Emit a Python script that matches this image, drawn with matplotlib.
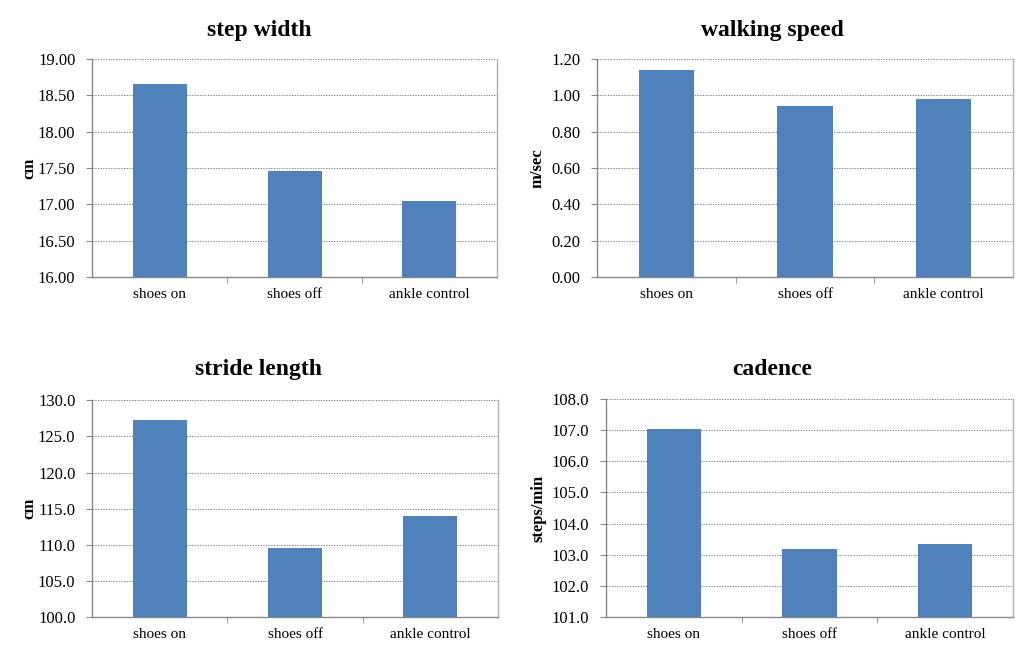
import matplotlib.pyplot as plt

plt.rcParams['font.family'] = ['Liberation Serif', 'DejaVu Serif']

categories = ['shoes on', 'shoes off', 'ankle control']

step_width = [18.66, 17.46, 17.05]
walking_speed = [1.14, 0.94, 0.98]
stride_length = [127.3, 109.5, 114.0]
cadence = [107.05, 103.18, 103.35]

titles = ['step width', 'walking speed', 'stride length', 'cadence']
ylabels = ['cm', 'm/sec', 'cm', 'steps/min']
ylims = [(16.0, 19.0), (0.0, 1.2), (100.0, 130.0), (101.0, 108.0)]
ysteps = [0.5, 0.2, 5.0, 1.0]
yfmts = ['{:.2f}', '{:.2f}', '{:.1f}', '{:.1f}']

bar_color = '#4F81BD'
axis_color = '#888888'

fig = plt.figure(figsize=(10.33, 6.69), dpi=100)
fig.patch.set_facecolor('white')

# axes boxes in figure fraction (left, bottom, width, height)
boxes = [
    (0.0891, 0.586, 0.392, 0.326),
    (0.578, 0.586, 0.4027, 0.326),
    (0.0891, 0.0777, 0.393, 0.324),
    (0.5866, 0.0777, 0.394, 0.326),
]
title_pos = [(0.251, 0.955), (0.748, 0.955), (0.250, 0.447), (0.748, 0.447)]
ylabel_x = [-0.135, -0.125, -0.135, -0.145]

data = [step_width, walking_speed, stride_length, cadence]

for i in range(4):
    ax = fig.add_axes(boxes[i])
    x = range(len(categories))
    lo, hi = ylims[i]
    ax.bar(x, [v - lo for v in data[i]], bottom=lo, width=0.4, color=bar_color, zorder=3)
    ax.set_xlim(-0.5, 2.5)
    ax.set_ylim(lo, hi)

    n = int(round((hi - lo) / ysteps[i]))
    ticks = [lo + k * ysteps[i] for k in range(n + 1)]
    ax.set_yticks(ticks)
    ax.set_yticklabels([yfmts[i].format(t) for t in ticks], fontsize=12)
    ax.yaxis.grid(True, linestyle=(0, (1.5, 1.2)), color='#8a8a8a', linewidth=0.7, zorder=0)

    ax.set_xticks(list(x))
    ax.set_xticklabels(categories, fontsize=11)
    ax.tick_params(axis='x', length=0, pad=8)
    ax.set_xticks([0.5, 1.5], minor=True)
    ax.tick_params(axis='x', which='minor', length=4, color=axis_color, direction='out')
    ax.tick_params(axis='y', length=4, color=axis_color, direction='out', pad=8)

    ax.spines['top'].set_visible(False)
    for s in ['left', 'bottom', 'right']:
        ax.spines[s].set_color(axis_color)
        ax.spines[s].set_linewidth(1.0)
    ax.spines['right'].set_color('#b0b0b0')

    ax.set_ylabel(ylabels[i], fontsize=12, fontweight='bold')
    ax.yaxis.set_label_coords(ylabel_x[i], 0.5)

    fig.text(title_pos[i][0], title_pos[i][1], titles[i], fontsize=17,
             fontweight='bold', ha='center', va='center')

fig.savefig('out.png', dpi=100)
